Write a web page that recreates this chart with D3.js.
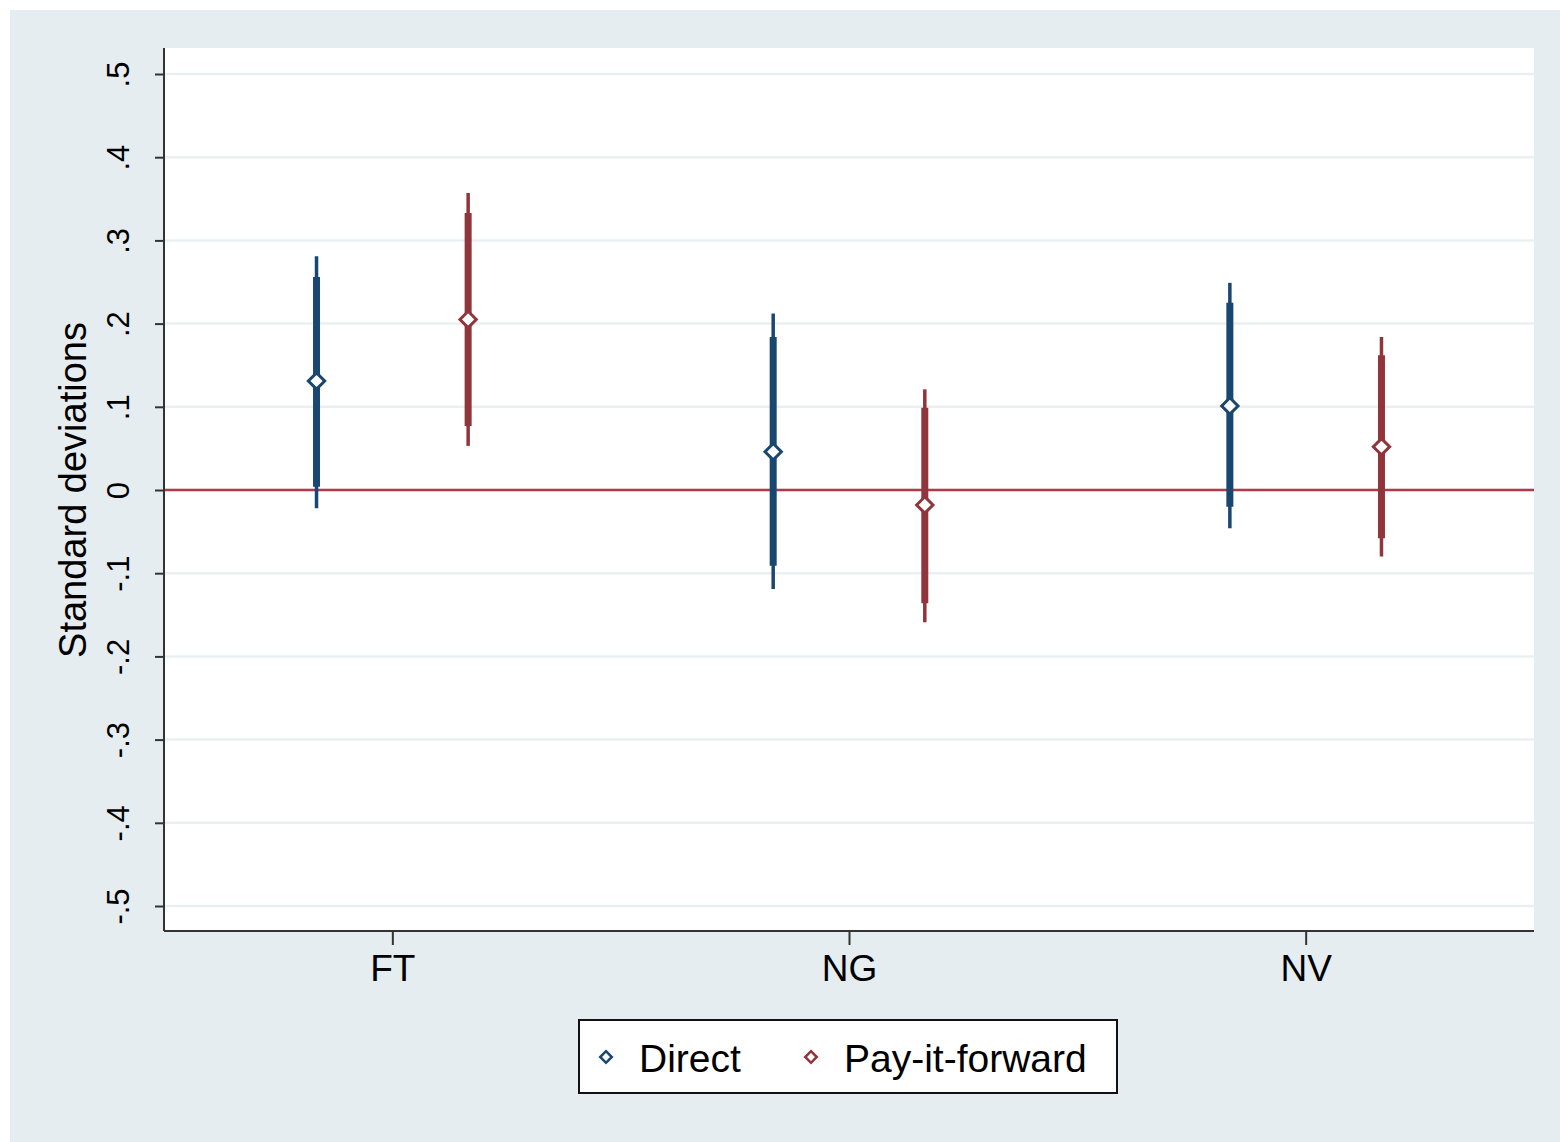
<!DOCTYPE html>
<html>
<head>
<meta charset="utf-8">
<script src="https://cdn.jsdelivr.net/npm/d3@7"></script>
<style>
  body { margin: 0; background: #fff; }
  text { font-family: "Liberation Sans", Arial, sans-serif; fill: #000; }
</style>
</head>
<body>
<script>
// categories and series
const groups = ["FT", "NG", "NV"];
const seriesNames = ["Direct", "Pay-it-forward"];
const seriesColors = ["#1a476f", "#90353b"];

// point estimates, 90% (thick) and 95% (thin) intervals, per series
const estDirect = [0.131, 0.046, 0.101];
const ci90Direct = [[0.004, 0.256], [-0.091, 0.184], [-0.020, 0.225]];
const ci95Direct = [[-0.022, 0.281], [-0.119, 0.212], [-0.046, 0.249]];

const estPIF = [0.205, -0.018, 0.052];
const ci90PIF = [[0.077, 0.333], [-0.136, 0.099], [-0.058, 0.162]];
const ci95PIF = [[0.053, 0.357], [-0.159, 0.121], [-0.080, 0.184]];

const yTicks = [-0.5, -0.4, -0.3, -0.2, -0.1, 0, 0.1, 0.2, 0.3, 0.4, 0.5];
const yTickLabels = ["-.5", "-.4", "-.3", "-.2", "-.1", "0", ".1", ".2", ".3", ".4", ".5"];

const W = 1560, H = 1142;
const plot = {left: 164, right: 1534, top: 48, bottom: 931};

const svg = d3.select("body").append("svg")
    .attr("width", W).attr("height", H);

// outer Stata-style background
svg.append("rect").attr("x", 10).attr("y", 10).attr("width", W - 10).attr("height", H - 10)
    .attr("fill", "#e6edf0");
svg.append("rect").attr("x", plot.left).attr("y", plot.top)
    .attr("width", plot.right - plot.left).attr("height", plot.bottom - plot.top)
    .attr("fill", "#ffffff");

const x = d3.scaleLinear().domain([0.5, 3.5]).range([plot.left, plot.right]);
const y = d3.scaleLinear().domain([-0.5, 0.5]).range([906, 74]);
const offset = 0.166;

// gridlines
svg.append("g").selectAll("line").data(yTicks).join("line")
    .attr("x1", plot.left).attr("x2", plot.right)
    .attr("y1", d => y(d)).attr("y2", d => y(d))
    .attr("stroke", "#eaf0f2").attr("stroke-width", 2.5);

// y axis
const yAxis = svg.append("g").attr("transform", `translate(${plot.left},0)`)
    .call(d3.axisLeft(y).tickValues(yTicks).tickSize(9)
      .tickFormat((d, i) => yTickLabels[i]));
yAxis.select(".domain").attr("d", `M0,${plot.top}V${plot.bottom}`).attr("stroke", "#333").attr("stroke-width", 2);
yAxis.selectAll(".tick line").attr("stroke", "#333").attr("stroke-width", 2);
yAxis.selectAll(".tick text")
    .attr("font-size", 31)
    .attr("transform", "rotate(-90)")
    .attr("x", 0).attr("y", -46)
    .attr("dy", "0.35em")
    .attr("text-anchor", "middle");

// x axis
const xAxis = svg.append("g").attr("transform", `translate(0,${plot.bottom})`)
    .call(d3.axisBottom(x).tickValues([1, 2, 3]).tickSize(14).tickFormat((d, i) => groups[i]));
xAxis.select(".domain").attr("d", `M${plot.left},0H${plot.right}`).attr("stroke", "#333").attr("stroke-width", 2);
xAxis.selectAll(".tick line").attr("stroke", "#333").attr("stroke-width", 2);
xAxis.selectAll(".tick text").attr("font-size", 37).attr("y", 24).attr("dy", "0.71em");

// y title
svg.append("text")
    .attr("transform", `translate(86,${y(0)}) rotate(-90)`)
    .attr("text-anchor", "middle")
    .attr("font-size", 38)
    .text("Standard deviations");

// reference line at zero
svg.append("line")
    .attr("x1", plot.left + 1).attr("x2", plot.right)
    .attr("y1", y(0)).attr("y2", y(0))
    .attr("stroke", "#b03a4c").attr("stroke-width", 2.5);

const series = [
  {est: estDirect, ci90: ci90Direct, ci95: ci95Direct, off: -offset, color: seriesColors[0]},
  {est: estPIF, ci90: ci90PIF, ci95: ci95PIF, off: offset, color: seriesColors[1]}
];

const diamond = d3.symbol().type(d3.symbolDiamond2).size(170);

series.forEach(s => {
  const g = svg.append("g");
  const idx = d3.range(groups.length);
  g.selectAll("line.thin").data(idx).join("line").attr("class", "thin")
      .attr("x1", i => x(i + 1 + s.off)).attr("x2", i => x(i + 1 + s.off))
      .attr("y1", i => y(s.ci95[i][0])).attr("y2", i => y(s.ci95[i][1]))
      .attr("stroke", s.color).attr("stroke-width", 3.5);
  g.selectAll("line.thick").data(idx).join("line").attr("class", "thick")
      .attr("x1", i => x(i + 1 + s.off)).attr("x2", i => x(i + 1 + s.off))
      .attr("y1", i => y(s.ci90[i][0])).attr("y2", i => y(s.ci90[i][1]))
      .attr("stroke", s.color).attr("stroke-width", 7);
  g.selectAll("path").data(idx).join("path")
      .attr("d", diamond)
      .attr("transform", i => `translate(${x(i + 1 + s.off)},${y(s.est[i])})`)
      .attr("fill", "#fff").attr("stroke", s.color).attr("stroke-width", 3);
});

// legend
const legend = svg.append("g");
legend.append("rect").attr("x", 579).attr("y", 1020).attr("width", 538).attr("height", 73)
    .attr("fill", "#fff").attr("stroke", "#111").attr("stroke-width", 2);
const legX = [606, 811];
seriesNames.forEach((name, i) => {
  legend.append("path").attr("d", d3.symbol().type(d3.symbolDiamond2).size(85))
      .attr("transform", `translate(${legX[i]},1057)`)
      .attr("fill", "#fff").attr("stroke", seriesColors[i]).attr("stroke-width", 2.5);
  legend.append("text").attr("x", legX[i] + 33).attr("y", 1058).attr("dy", "0.36em")
      .attr("font-size", 39).text(name);
});
</script>
</body>
</html>
